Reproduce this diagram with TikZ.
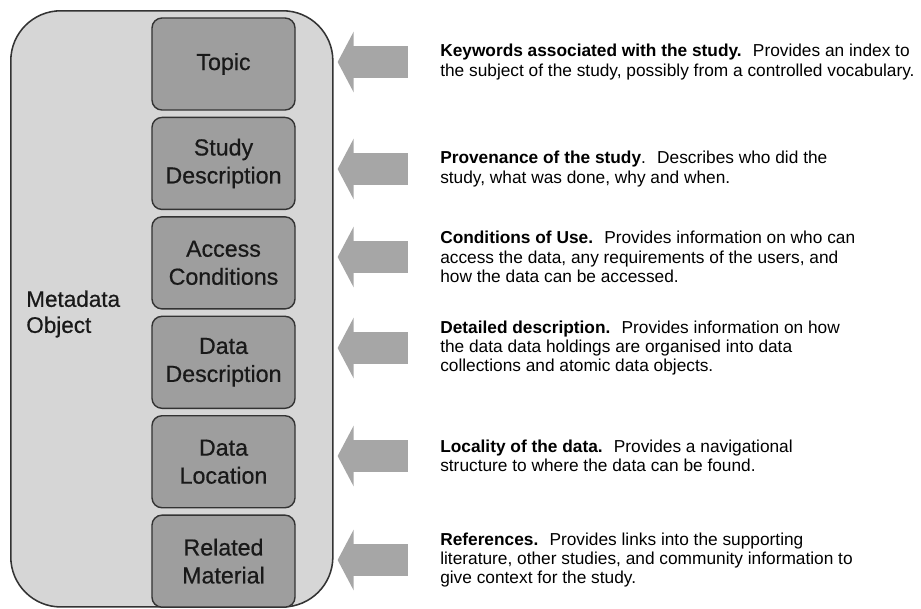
\documentclass[tikz,border=0pt]{standalone}
\usepackage{fontspec}
\setmainfont{Liberation Sans}
\newfontfamily\partfont[FakeBold=0.6]{Liberation Sans}
\usepackage{xcolor}
\usetikzlibrary{arrows.meta,positioning}

\definecolor{outerfill}{gray}{0.84}
\definecolor{partfill}{gray}{0.62}
\definecolor{arrowfill}{gray}{0.65}
\definecolor{edgegray}{gray}{0.2}

\begin{document}
\begin{tikzpicture}[
  x=0.025cm, y=-0.025cm,
  part/.style={draw=edgegray, line width=1pt, rounded corners=0.25cm,
               fill=partfill, minimum width=3.575cm, minimum height=2.3cm,
               align=center, text=black!90,
               font=\partfont\fontsize{16.5}{19.9}\selectfont},
  desc/.style={anchor=west, align=left, inner sep=0pt,
               font=\fontsize{12.3}{13.8}\selectfont},
  fatarrow/.style={arrowfill, line width=0.8cm,
                   -{Triangle[width=1.5cm,length=0.4cm]}}
]
\useasboundingbox (0,0) rectangle (921,608);

%% --- outer object ---
\node[draw=edgegray, line width=1.1pt, fill=outerfill, rounded corners=1.25cm,
      minimum width=8.05cm, minimum height=14.9cm, anchor=north west]
  (obj) at (10,10) {};
\node[anchor=west, align=left, inner sep=0pt, text=black!90,
      font=\partfont\fontsize{16}{18.5}\selectfont] (objlabel) at (26,314)
  {Metadata\\Object};

%% --- parts ---
\node[part] (topic) at (223.5,64) {Topic};
\node[part, below=0.15cm of topic] (study) {Study\\Description};
\node[part, below=0.15cm of study] (access) {Access\\Conditions};
\node[part, below=0.15cm of access] (datadesc) {Data\\Description};
\node[part, below=0.15cm of datadesc] (location) {Data\\Location};
\node[part, below=0.15cm of location] (related) {Related\\Material};

%% --- descriptions ---
\node[desc] (dtopic) at (440,62)
  {\textbf{Keywords associated with the study.}~ Provides an index to\\
   the subject of the study, possibly from a controlled vocabulary.};
\node[desc] (dstudy) at (440,169)
  {\textbf{Provenance of the study}.~ Describes who did the\\
   study, what was done, why and when.};
\node[desc] (daccess) at (440,257)
  {\textbf{Conditions of Use.}~ Provides information on who can\\
   access the data, any requirements of the users, and\\
   how the data can be accessed.};
\node[desc] (ddatadesc) at (440,348)
  {\textbf{Detailed description.}~ Provides information on how\\
   the data data holdings are organised into data\\
   collections and atomic data objects.};
\node[desc] (dlocation) at (440,456)
  {\textbf{Locality of the data.}~ Provides a navigational\\
   structure to where the data can be found.};
\node[desc] (drelated) at (440,560)
  {\textbf{References.}~ Provides links into the supporting\\
   literature, other studies, and community information to\\
   give context for the study.};

%% --- arrows ---
\draw[fatarrow] ([xshift=-0.8cm]dtopic.west) -- ([xshift=0.1cm]dtopic.west -| obj.east);
\draw[fatarrow] ([xshift=-0.8cm]dstudy.west) -- ([xshift=0.1cm]dstudy.west -| obj.east);
\draw[fatarrow] ([xshift=-0.8cm]daccess.west) -- ([xshift=0.1cm]daccess.west -| obj.east);
\draw[fatarrow] ([xshift=-0.8cm]ddatadesc.west) -- ([xshift=0.1cm]ddatadesc.west -| obj.east);
\draw[fatarrow] ([xshift=-0.8cm]dlocation.west) -- ([xshift=0.1cm]dlocation.west -| obj.east);
\draw[fatarrow] ([xshift=-0.8cm]drelated.west) -- ([xshift=0.1cm]drelated.west -| obj.east);
\end{tikzpicture}
\end{document}
